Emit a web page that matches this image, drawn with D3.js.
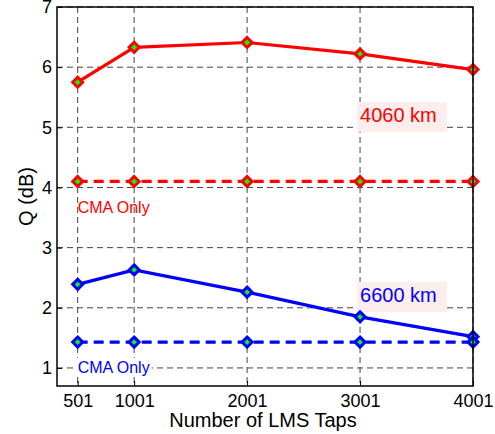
<!DOCTYPE html>
<html>
<head>
<meta charset="utf-8">
<script src="https://cdn.jsdelivr.net/npm/d3@7"></script>
<style>
  body { margin: 0; background: #fff; }
  text { font-family: "Liberation Sans", Arial, sans-serif; }
</style>
</head>
<body>
<div id="chart"></div>
<script>
const taps = [501, 1001, 2001, 3001, 4001];
const q4060 = [5.75, 6.33, 6.41, 6.22, 5.96];
const q4060Cma = [4.1, 4.1, 4.1, 4.1, 4.1];
const q6600 = [2.39, 2.63, 2.26, 1.85, 1.52];
const q6600Cma = [1.43, 1.43, 1.43, 1.43, 1.43];
const yTicks = [1, 2, 3, 4, 5, 6, 7];

const width = 495, height = 434;
const plotLeft = 57, plotRight = 473, plotTop = 7, plotBottom = 386;

const svg = d3.select("#chart").append("svg")
  .attr("width", width)
  .attr("height", height);

const x = d3.scaleLinear().domain([318, 4001]).range([plotLeft, plotRight]);
const y = d3.scaleLinear().domain([0.7, 7]).range([plotBottom, plotTop]);

// grid
const grid = svg.append("g")
  .attr("stroke", "#444")
  .attr("stroke-width", 1)
  .attr("stroke-dasharray", "6,4");
grid.selectAll(".gx").data(taps).enter().append("line")
  .attr("x1", d => x(d)).attr("x2", d => x(d))
  .attr("y1", plotTop).attr("y2", plotBottom);
grid.selectAll(".gy").data(yTicks).enter().append("line")
  .attr("x1", plotLeft).attr("x2", plotRight)
  .attr("y1", d => y(d)).attr("y2", d => y(d));

// axes with inward ticks
svg.append("g")
  .attr("transform", `translate(0,${plotBottom})`)
  .call(d3.axisBottom(x).tickValues(taps).tickSize(-5).tickPadding(8).tickFormat(d3.format("d")))
  .call(g => g.select(".domain").remove())
  .selectAll("text")
  .attr("font-size", 18)
  .attr("fill", "#000");

svg.append("g")
  .attr("transform", `translate(${plotLeft},0)`)
  .call(d3.axisLeft(y).tickValues(yTicks).tickSize(-5).tickPadding(5).tickFormat(d3.format("d")))
  .call(g => g.select(".domain").remove())
  .selectAll("text")
  .attr("font-size", 18)
  .attr("fill", "#000");

svg.selectAll(".tick line").attr("stroke", "#000");

// text annotations (y value = baseline), drawn under the lines
function label(txt, xv, yv, color, bg, size, bx, by, bw, bh) {
  svg.append("rect")
    .attr("x", x(xv) + bx).attr("y", y(yv) + by)
    .attr("width", bw).attr("height", bh)
    .attr("fill", bg);
  svg.append("text")
    .attr("x", x(xv)).attr("y", y(yv))
    .attr("font-size", size)
    .attr("fill", color)
    .text(txt);
}
label("4060 km", 3001, 5.09, "#ff0000", "#fdeded", 20, -3, -20, 90, 30);
label("6600 km", 3001, 2.10, "#0000ff", "#fdeded", 20, -3, -20, 90, 30);
label("CMA Only", 501, 3.58, "#ff0000", "none", 16, -2, -15, 76, 19);
label("CMA Only", 501, 0.92, "#0000ff", "#fff", 16, -2, -15, 76, 19);

// series
const series = [
  { values: q4060, color: "#ff0000", dash: null },
  { values: q4060Cma, color: "#ff0000", dash: "10,6" },
  { values: q6600, color: "#0000ff", dash: null },
  { values: q6600Cma, color: "#0000ff", dash: "10,6" }
];

const line = d3.line()
  .x((d, i) => x(taps[i]))
  .y(d => y(d));

series.forEach(s => {
  svg.append("path")
    .datum(s.values)
    .attr("fill", "none")
    .attr("stroke", s.color)
    .attr("stroke-width", 3.2)
    .attr("stroke-dasharray", s.dash)
    .attr("d", line);

  const r = 5;
  svg.selectAll(null)
    .data(s.values)
    .enter().append("path")
    .attr("d", `M0,${-r}L${r},0L0,${r}L${-r},0Z`)
    .attr("transform", (d, i) => `translate(${x(taps[i])},${y(d)})`)
    .attr("fill", "#00ff00")
    .attr("stroke", s.color)
    .attr("stroke-width", 3);
});

// box
svg.append("rect")
  .attr("x", plotLeft).attr("y", plotTop)
  .attr("width", plotRight - plotLeft).attr("height", plotBottom - plotTop)
  .attr("fill", "none")
  .attr("stroke", "#000")
  .attr("stroke-width", 1.5);

// axis titles
svg.append("text")
  .attr("x", 263)
  .attr("y", 427)
  .attr("text-anchor", "middle")
  .attr("font-size", 20)
  .text("Number of LMS Taps");

svg.append("text")
  .attr("transform", `translate(33,${y(3.85)}) rotate(-90)`)
  .attr("text-anchor", "middle")
  .attr("font-size", 20)
  .text("Q (dB)");
</script>
</body>
</html>
